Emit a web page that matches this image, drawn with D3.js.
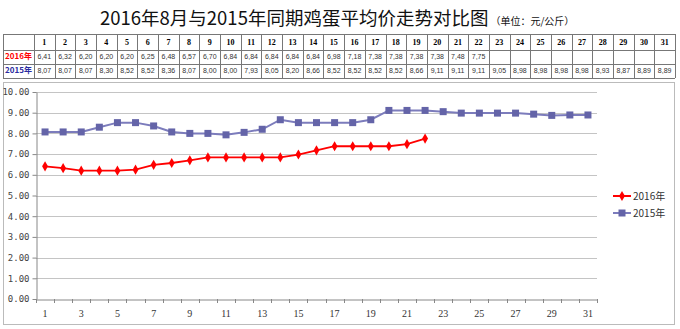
<!DOCTYPE html>
<html><head><meta charset="utf-8">
<script src="https://cdn.jsdelivr.net/npm/d3@7"></script>
<style>body{margin:0;background:#fff}svg{display:block}</style>
</head><body><svg id="c" width="680" height="329"></svg>
<script>
const days = d3.range(1, 32).map(String);
const s2016 = [6.41,6.32,6.20,6.20,6.20,6.25,6.48,6.57,6.70,6.84,6.84,6.84,6.84,6.84,6.98,7.18,7.38,7.38,7.38,7.38,7.48,7.75];
const s2015 = [8.07,8.07,8.07,8.30,8.52,8.52,8.36,8.07,8.00,8.00,7.93,8.05,8.20,8.66,8.52,8.52,8.52,8.52,8.66,9.11,9.11,9.11,9.05,8.98,8.98,8.98,8.98,8.93,8.87,8.89,8.89];
const seriesNames = ["2016年","2015年"];
const yTicks = [0,1,2,3,4,5,6,7,8,9,10];
const xLabels = days.filter((d,i)=>i%2===0);

const svg = d3.select("#c");
const cjk = "'Noto Sans CJK SC', sans-serif";
const serif = "'Liberation Serif','DejaVu Serif',serif";

// title
const t = svg.append("text").attr("x",100).attr("y",25).attr("font-family",cjk).attr("fill","#111");
t.append("tspan").attr("font-size",18.5).text("2016年8月与2015年同期鸡蛋平均价走势对比图");
t.append("tspan").attr("font-size",10).attr("dx",2).text("（单位：元/公斤）");

// table
const tx0 = 3, tx1 = 34, tx2 = 675;
const rowsY = [34, 50, 64, 78];
const colX = d3.scaleBand().domain(days).range([tx1, tx2]);
const tb = svg.append("g");
rowsY.forEach(y => tb.append("line").attr("x1",tx0).attr("x2",tx2).attr("y1",y+0.5).attr("y2",y+0.5).attr("stroke","#777"));
[tx0, tx1].concat(days.map(d=>colX(d)+colX.bandwidth())).forEach(x=>
  tb.append("line").attr("x1",Math.round(x)+0.5).attr("x2",Math.round(x)+0.5).attr("y1",rowsY[0]).attr("y2",rowsY[3]).attr("stroke","#777"));
tb.selectAll(".h").data(days).join("text").attr("x",d=>colX(d)+colX.bandwidth()/2).attr("y",45)
  .attr("text-anchor","middle").attr("font-size",8).attr("font-weight","bold").attr("font-family",serif).text(d=>d);
const rowData = [[s2016,"#ff0000",59],[s2015,"#2a2aa0",73]];
rowData.forEach(([arr,col,y],k)=>{
  tb.append("text").attr("x",(tx0+tx1)/2).attr("y",y).attr("text-anchor","middle").attr("font-size",8)
    .attr("font-weight","bold").attr("fill",col).attr("font-family",cjk).text(seriesNames[k]);
  tb.selectAll(null).data(arr).join("text").attr("x",(d,i)=>colX(days[i])+colX.bandwidth()/2).attr("y",y)
    .attr("text-anchor","middle").attr("font-size",7).attr("fill","#333").attr("font-family","'Liberation Sans',sans-serif")
    .text(d=>d.toFixed(2).replace(".",","));
});

// chart frame
svg.append("rect").attr("x",3.5).attr("y",82.5).attr("width",671).attr("height",242).attr("fill","none").attr("stroke","#bbb");

const x = d3.scaleBand().domain(days).range([36, 597]);
const y = d3.scaleLinear().domain([0,10]).range([299, 92]);
const cx = d => x(d)+x.bandwidth()/2;

const g = svg.append("g");
g.selectAll(".grid").data(yTicks.slice(1)).join("line").attr("x1",36).attr("x2",597)
  .attr("y1",d=>Math.round(y(d))+0.5).attr("y2",d=>Math.round(y(d))+0.5).attr("stroke","#c4c4c4").attr("stroke-width",1.2);

const ya = g.append("g").attr("transform","translate(36.5,0)")
  .call(d3.axisLeft(y).tickValues(yTicks).tickFormat(d3.format(".2f")).tickSize(4).tickSizeOuter(0));
ya.select(".domain").attr("stroke","#888");
ya.selectAll(".tick line").attr("stroke","#888");
ya.selectAll("text").attr("font-size",9).attr("font-family","'DejaVu Sans Mono',monospace").attr("fill","#444").attr("x",-7);

const xa = g.append("g").attr("transform","translate(0,299.5)")
  .call(d3.axisBottom(x).tickValues([]).tickSizeOuter(0));
xa.select(".domain").attr("stroke","#888");
g.selectAll(".xt").data(days.concat(["end"])).join("line")
  .attr("x1",(d,i)=>Math.round(36+i*x.step())+0.5).attr("x2",(d,i)=>Math.round(36+i*x.step())+0.5)
  .attr("y1",299).attr("y2",303).attr("stroke","#888");
g.selectAll(".xl").data(xLabels).join("text").attr("x",cx).attr("y",317).attr("text-anchor","middle")
  .attr("font-size",10).attr("font-family",serif).attr("fill","#333").text(d=>d);

const line = d3.line().x((d,i)=>cx(days[i])).y(d=>y(d));
const c15 = "#6464a8", l15 = "#7c7cbc", c16 = "#ff0000";
g.append("path").datum(s2015).attr("d",line).attr("fill","none").attr("stroke",l15).attr("stroke-width",2);
g.selectAll(".m15").data(s2015).join("rect").attr("x",(d,i)=>cx(days[i])-3.5).attr("y",d=>y(d)-3.5)
  .attr("width",7).attr("height",7).attr("fill",c15);
g.append("path").datum(s2016).attr("d",line).attr("fill","none").attr("stroke",c16).attr("stroke-width",1.8);
const diamond = d3.symbol().type(d3.symbolDiamond).size(30);
g.selectAll(".m16").data(s2016).join("path").attr("d",diamond)
  .attr("transform",(d,i)=>`translate(${cx(days[i])},${y(d)})`).attr("fill",c16);

// legend
const lg = svg.append("g");
[[c16,c16,196,"d"],[l15,c15,213,"s"]].forEach(([lc,mc,yy,m],k)=>{
  lg.append("line").attr("x1",613).attr("x2",631).attr("y1",yy).attr("y2",yy).attr("stroke",lc).attr("stroke-width",2);
  if(m==="d") lg.append("path").attr("d",diamond).attr("transform",`translate(622,${yy})`).attr("fill",mc);
  else lg.append("rect").attr("x",618.5).attr("y",yy-3.5).attr("width",7).attr("height",7).attr("fill",mc);
  lg.append("text").attr("x",633).attr("y",yy+4).attr("font-size",10).attr("font-family",cjk).attr("fill","#333").text(seriesNames[k]);
});
</script></body></html>
